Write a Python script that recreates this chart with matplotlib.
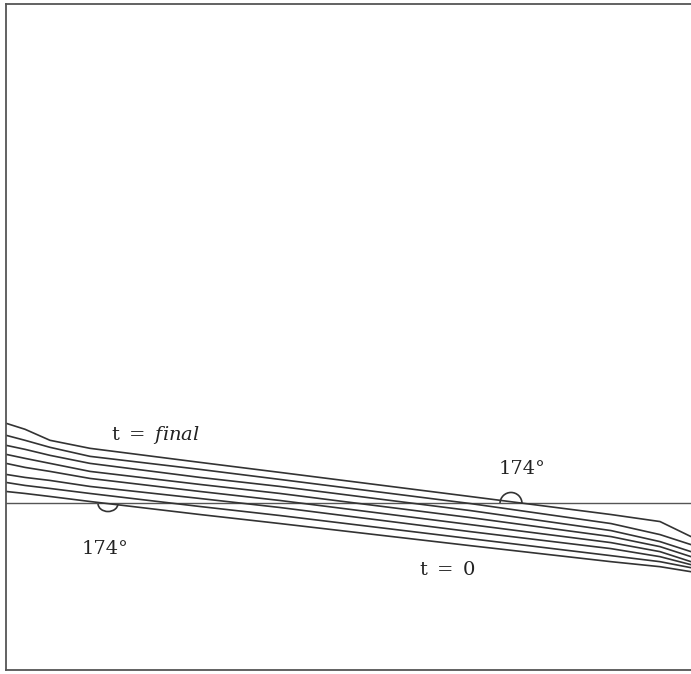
#!/usr/bin/env python
"""
Film profile evolution on an inclined substrate, t = 0 to t = final
"""

import numpy as np
import matplotlib
matplotlib.use('Agg')
import matplotlib.pyplot as plt
from matplotlib.patches import Arc

plt.rcParams['font.family'] = 'DejaVu Serif'
plt.rcParams['mathtext.fontset'] = 'dejavuserif'

# station positions along the substrate (picture pixels)
x_stations = [6, 25, 50, 90, 200, 280, 470, 611, 660, 691]

# profile heights at each station, t = 0 (bottom) ... t = final (top)
profiles = [
    [492, 494, 497, 502, 515, 524, 546, 562, 567, 572],
    [483, 486, 489, 494, 507, 516, 539, 556, 562, 568],
    [475, 478, 481, 487, 499, 508, 532, 549, 557, 565],
    [464, 468, 472, 479, 492, 501, 525, 543, 552, 562],
    [455, 459, 464, 472, 485, 494, 518, 537, 547, 557],
    [446, 450, 456, 464, 478, 487, 511, 531, 542, 552],
    [436, 441, 448, 457, 470, 480, 504, 524, 535, 545],
    [424, 430, 441, 449, 463, 473, 497, 515, 522, 537],
]

reference_level = 504
contact_angle = "174°"

fig = plt.figure(figsize=(6.91, 6.74), dpi=100)
ax = fig.add_axes([6 / 691, 4 / 674, 1.0, 666 / 674])
ax.set_xlim(6, 697)
ax.set_ylim(670, 6)
ax.set_xticks([])
ax.set_yticks([])
for side in ['left', 'top', 'bottom']:
    ax.spines[side].set_linewidth(1.3)
    ax.spines[side].set_color('#555555')
ax.spines['right'].set_visible(False)

# reference horizontal
ax.axhline(reference_level, color='#555555', lw=1.0)

# profiles
for prof in profiles:
    ax.plot(x_stations, prof, color='#333333', lw=1.2,
            solid_joinstyle='round', solid_capstyle='round')

# contact angle arcs
ax.add_patch(Arc((108, reference_level), 20, 16, theta1=0, theta2=180,
                 color='#333333', lw=1.2))
ax.add_patch(Arc((511, reference_level), 22, 22, theta1=180, theta2=360,
                 color='#333333', lw=1.2))

# labels
ax.text(155, 436, r'$\mathrm{t}\ =\ \mathit{final}$', ha='center', va='center',
        fontsize=14, color='#222222')
ax.text(105, 549, contact_angle, ha='center', va='center', fontsize=14,
        color='#222222')
ax.text(522, 470, contact_angle, ha='center', va='center', fontsize=14,
        color='#222222')
ax.text(448, 570, r'$\mathrm{t}\ =\ 0$', ha='center', va='center',
        fontsize=14, color='#222222')

fig.savefig('out.png', dpi=100, facecolor='white')
plt.close('all')
